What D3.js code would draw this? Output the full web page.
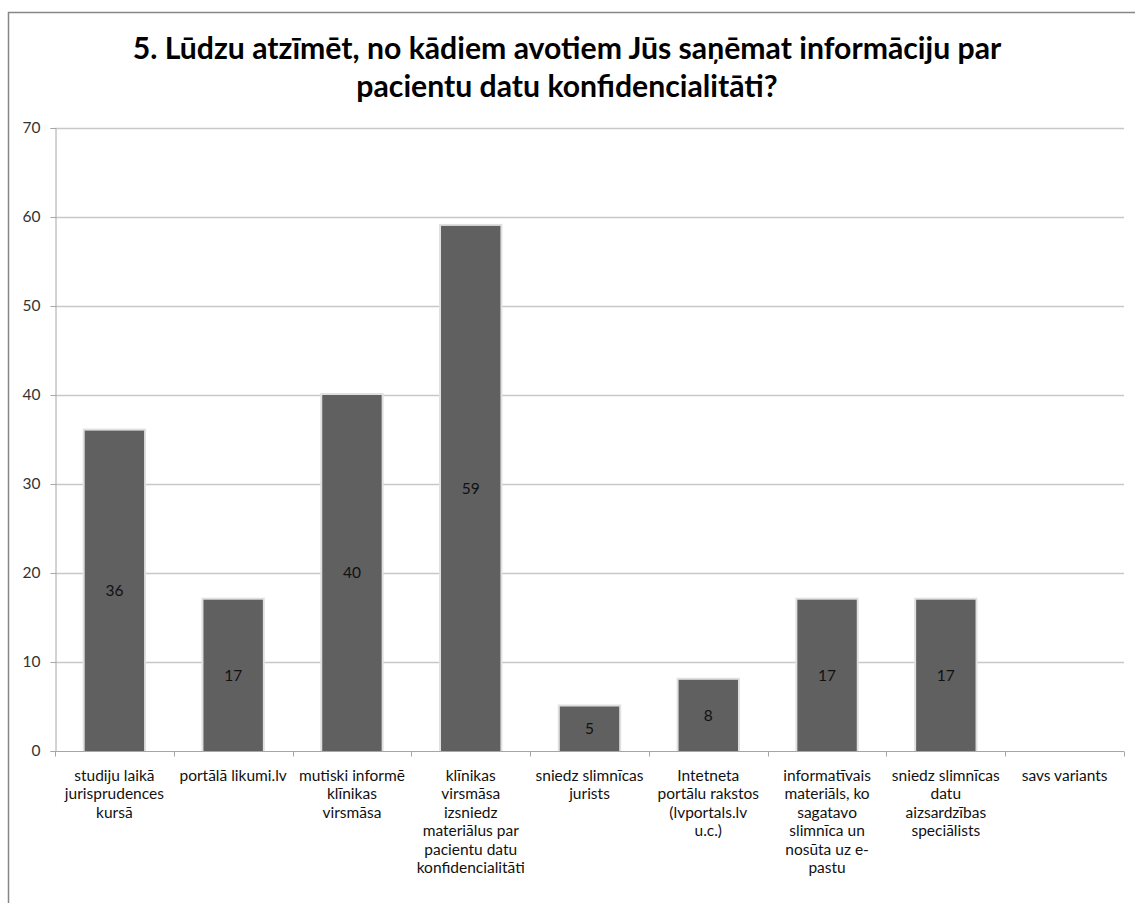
<!DOCTYPE html>
<meta charset="utf-8">
<script src="https://d3js.org/d3.v7.min.js"></script>
<style>
body { margin: 0; background: #fff; }
svg text { font-family: Lato, "Open Sans", sans-serif; }
</style>
<div id="chart"></div>
<script>

// data
var titleLines = ["5. Lūdzu atzīmēt, no kādiem avotiem Jūs saņēmat informāciju par",
                  "pacientu datu konfidencialitāti?"];
var categories = [
  ["studiju laikā", "jurisprudences", "kursā"],
  ["portālā likumi.lv"],
  ["mutiski informē", "klīnikas", "virsmāsa"],
  ["klīnikas", "virsmāsa", "izsniedz", "materiālus par", "pacientu datu", "konfidencialitāti"],
  ["sniedz slimnīcas", "jurists"],
  ["Intetneta", "portālu rakstos", "(lvportals.lv", "u.c.)"],
  ["informatīvais", "materiāls, ko", "sagatavo", "slimnīca un", "nosūta uz e-", "pastu"],
  ["sniedz slimnīcas", "datu", "aizsardzības", "speciālists"],
  ["savs variants"]
];
var values = [36, 17, 40, 59, 5, 8, 17, 17, null];
var yTicks = [0, 10, 20, 30, 40, 50, 60, 70];

var W = 1135, H = 903;
var margin = {left: 55, right: 1124, top: 128, bottom: 751};

var svg = d3.select("#chart").append("svg")
    .attr("width", W)
    .attr("height", H);

// outer chart frame (runs off the right and bottom edges)
svg.append("rect")
    .attr("x", 8.5).attr("y", 12.5)
    .attr("width", W + 20).attr("height", H + 20)
    .attr("fill", "none")
    .attr("stroke", "#868686")
    .attr("stroke-width", 1.5);

// title
svg.append("text")
    .attr("x", 567)
    .attr("y", 59)
    .attr("text-anchor", "middle")
    .style("font-size", "30.2px")
    .style("font-weight", "bold")
    .attr("fill", "#000")
  .selectAll("tspan")
  .data(titleLines)
  .enter().append("tspan")
    .attr("x", 567)
    .attr("dy", function(d, i) { return i == 0 ? 0 : 38; })
    .text(function(d) { return d; });

var x = d3.scaleBand()
    .domain(d3.range(categories.length))
    .range([margin.left, margin.right])
    .paddingInner(0.5)
    .paddingOuter(0.25);

var xOuter = d3.scaleBand()
    .domain(d3.range(categories.length))
    .range([margin.left, margin.right]);

var y = d3.scaleLinear()
    .domain([0, 70])
    .range([margin.bottom, margin.top]);

// gridlines
svg.append("g")
  .selectAll("line")
  .data(yTicks.filter(function(d) { return d > 0; }))
  .enter().append("line")
    .attr("x1", margin.left).attr("x2", margin.right)
    .attr("y1", function(d) { return Math.round(y(d)) + 0.5; })
    .attr("y2", function(d) { return Math.round(y(d)) + 0.5; })
    .attr("stroke", "#c8c8c8")
    .attr("stroke-width", 1.5);

// y axis
var yAxis = svg.append("g")
    .attr("transform", "translate(" + (margin.left + 0.5) + ",0)")
    .call(d3.axisLeft(y).tickValues(yTicks).tickSize(5).tickPadding(10));
yAxis.select(".domain").attr("stroke", "#a6a6a6");
yAxis.selectAll(".tick line").attr("stroke", "#a6a6a6");
yAxis.selectAll(".tick text")
    .style("font-size", "15.5px")
    .attr("fill", "#333");

// bars, with a light halo like the original
var bars = svg.append("g")
  .selectAll("g")
  .data(values.map(function(v, i) { return {i: i, v: v}; }).filter(function(d) { return d.v != null && d.v > 0; }))
  .enter().append("g");

bars.append("rect")
    .attr("x", function(d) { return x(d.i) - 2; })
    .attr("y", function(d) { return y(d.v) - 2; })
    .attr("width", x.bandwidth() + 4)
    .attr("height", function(d) { return y(0) - y(d.v) + 2; })
    .attr("fill", "#e0e0e0");

bars.append("rect")
    .attr("x", function(d) { return x(d.i); })
    .attr("y", function(d) { return y(d.v); })
    .attr("width", x.bandwidth())
    .attr("height", function(d) { return y(0) - y(d.v); })
    .attr("fill", "#606060");

bars.append("text")
    .attr("x", function(d) { return x(d.i) + x.bandwidth() / 2; })
    .attr("y", function(d) { return (y(d.v) + y(0)) / 2; })
    .attr("dy", "0.35em")
    .attr("text-anchor", "middle")
    .style("font-size", "15.5px")
    .attr("fill", "#111")
    .text(function(d) { return d.v; });

// x axis
var xAxis = svg.append("g")
    .attr("transform", "translate(0," + (margin.bottom + 0.5) + ")");
xAxis.append("line")
    .attr("x1", margin.left).attr("x2", margin.right)
    .attr("stroke", "#a6a6a6");
xAxis.selectAll(".tk")
  .data(d3.range(categories.length + 1))
  .enter().append("line")
    .attr("class", "tk")
    .attr("x1", function(d) { return Math.round(margin.left + d * xOuter.step()) + 0.5; })
    .attr("x2", function(d) { return Math.round(margin.left + d * xOuter.step()) + 0.5; })
    .attr("y1", 0).attr("y2", 5)
    .attr("stroke", "#a6a6a6");

var labels = xAxis.selectAll(".lbl")
  .data(categories)
  .enter().append("text")
    .attr("class", "lbl")
    .attr("text-anchor", "middle")
    .attr("y", 29)
    .style("font-size", "15.5px")
    .attr("fill", "#111");
labels.selectAll("tspan")
  .data(function(d, i) { return d.map(function(t) { return {t: t, i: i}; }); })
  .enter().append("tspan")
    .attr("x", function(d) { return xOuter(d.i) + xOuter.bandwidth() / 2; })
    .attr("dy", function(d, j) { return j == 0 ? 0 : 18.5; })
    .text(function(d) { return d.t; });

</script>
